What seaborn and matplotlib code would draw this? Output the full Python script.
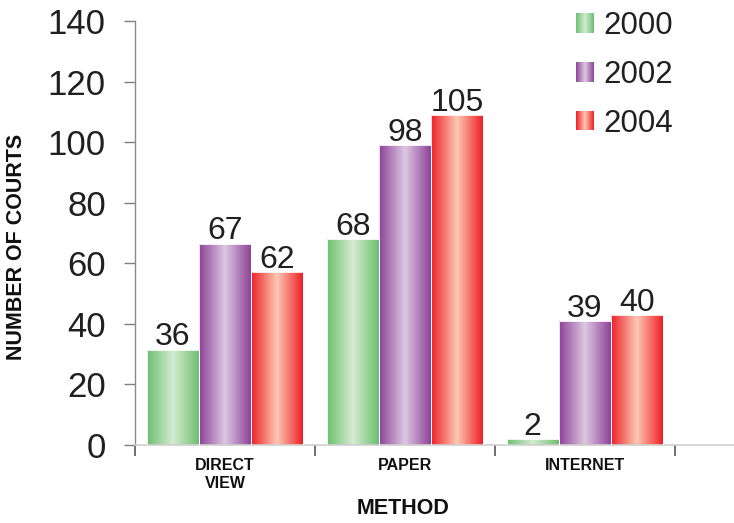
import numpy as np
import pandas as pd
import matplotlib
matplotlib.use("Agg")
import matplotlib.pyplot as plt
from matplotlib.colors import LinearSegmentedColormap
from matplotlib.patches import Patch
import seaborn as sns

# ---- data ----
methods = ["DIRECT\nVIEW", "PAPER", "INTERNET"]
years = ["2000", "2002", "2004"]
heights_2000 = [31.5, 68, 2]
heights_2002 = [66.5, 99, 41]
heights_2004 = [57, 109, 43]
labels_2000 = ["36", "68", "2"]
labels_2002 = ["67", "98", "39"]
labels_2004 = ["62", "105", "40"]
y_ticks = [0, 20, 40, 60, 80, 100, 120, 140]

edge_colors = ["#6dbf6f", "#8e4298", "#ee1f26"]
center_colors = ["#d3ecd1", "#dcc8e1", "#fdc8b4"]

heights = [heights_2000, heights_2002, heights_2004]
labels = [labels_2000, labels_2002, labels_2004]
df = pd.DataFrame({
    "method": methods * 3,
    "year": [y for y in years for _ in methods],
    "value": heights_2000 + heights_2002 + heights_2004,
})

sns.set_style("white")
plt.rcParams["font.family"] = ["Liberation Sans", "DejaVu Sans"]

fig = plt.figure(figsize=(7.34, 5.23), dpi=100)
ax = fig.add_axes([135 / 734, 1 - 445 / 523, 1 - 135 / 734, (445 - 21) / 523])

sns.barplot(data=df, x="method", y="value", hue="year", order=methods,
            hue_order=years, palette=edge_colors, width=0.867, ax=ax,
            edgecolor="white", linewidth=0.6, legend=False)

cmaps = [LinearSegmentedColormap.from_list(f"g{i}", [edge_colors[i], center_colors[i], edge_colors[i]])
         for i in range(3)]
grad = np.linspace(0, 1, 256).reshape(1, -1)

for i, cont in enumerate(ax.containers):
    for j, bar in enumerate(cont):
        x0 = bar.get_x()
        w = bar.get_width()
        h = bar.get_height()
        im = ax.imshow(grad, cmap=cmaps[i], aspect="auto",
                       extent=[x0, x0 + w, 0, h], origin="lower", zorder=2)
        im.set_clip_path(bar)
        bar.set_facecolor("none")
        bar.set_zorder(3)
        ax.annotate(labels[i][j], (x0 + w / 2, h), xytext=(0, 3),
                    textcoords="offset points", ha="center", va="baseline",
                    fontsize=23, color="#231f20")

ax.set_xlim(-0.5, 2.83)
ax.set_ylim(0, 140)
ax.set_yticks(y_ticks)
ax.set_yticklabels([str(t) for t in y_ticks], fontsize=25, color="#231f20")
ax.set_xticks(range(3))
ax.set_xticklabels(methods, fontsize=11.5, fontweight="bold", color="#111111", linespacing=1.25)
ax.set_xticks([-0.5, 0.5, 1.5, 2.5], minor=True)
ax.tick_params(axis="x", which="major", length=0, pad=9)
ax.tick_params(axis="x", which="minor", length=8, width=1.2, color="#555555", direction="out", bottom=True)
ax.tick_params(axis="y", length=8, width=1, color="#7f7f7f", direction="out", pad=13, left=True)

for s in ["top", "right"]:
    ax.spines[s].set_visible(False)
ax.spines["left"].set_color("#8a8a8a")
ax.spines["left"].set_linewidth(1)
ax.spines["bottom"].set_color("#cfcfcf")
ax.spines["bottom"].set_linewidth(1.2)
ax.set_xlabel("")
ax.set_ylabel("")

fig.text(17 / 734, 1 - 247 / 523, "NUMBER OF COURTS", rotation=90, ha="center", va="center",
         fontsize=15.5, fontweight="bold", color="#111111")
fig.text(403 / 734, 1 - 509 / 523, "METHOD", ha="center", va="center",
         fontsize=15.5, fontweight="bold", color="#111111")

handles = [Patch(facecolor=edge_colors[i], label=years[i]) for i in range(3)]
leg = ax.legend(handles=handles, loc="upper left", bbox_to_anchor=(576 / 734, 1 - 11 / 523),
                bbox_transform=fig.transFigure, frameon=False, fontsize=22.5,
                handlelength=0.56, handleheight=0.6, handletextpad=0.32,
                labelspacing=0.6, borderpad=0, borderaxespad=0)
for t in leg.get_texts():
    t.set_color("#231f20")

fig.canvas.draw()
inv = fig.transFigure.inverted()
for i, p in enumerate(leg.get_patches()):
    bb = p.get_window_extent(fig.canvas.get_renderer())
    (fx0, fy0), (fx1, fy1) = inv.transform([[bb.x0, bb.y0], [bb.x1, bb.y1]])
    lax = fig.add_axes([fx0, fy0, fx1 - fx0, fy1 - fy0])
    lax.imshow(grad, cmap=cmaps[i], aspect="auto")
    lax.axis("off")
    p.set_visible(False)

fig.savefig("out.png", dpi=100)
